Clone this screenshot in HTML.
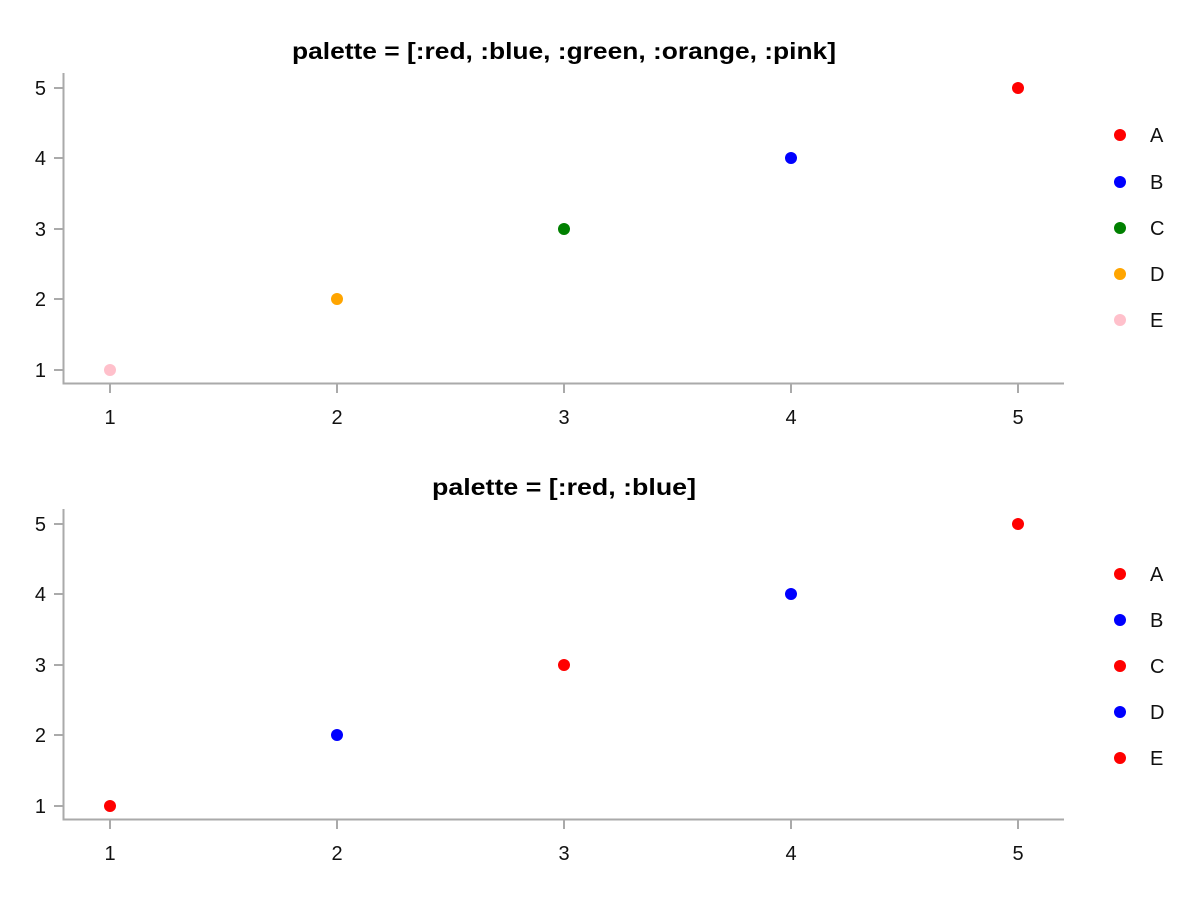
<!DOCTYPE html>
<html><head><meta charset="utf-8"><style>body{margin:0;background:#fff}svg{display:block}</style></head><body>
<svg width="1200" height="900" xmlns="http://www.w3.org/2000/svg" font-family="Liberation Sans, DejaVu Sans, sans-serif">
<g id="p1">
<text x="292" y="59" font-size="23" font-weight="bold" textLength="544" lengthAdjust="spacingAndGlyphs">palette = [:red, :blue, :green, :orange, :pink]</text>
<path d="M63.5 73V383.5H1064" fill="none" stroke="#aaa" stroke-width="2"/>
<g stroke="#aaa" stroke-width="2">
<path d="M54 370H63M54 299H63M54 229H63M54 158H63M54 88H63"/>
<path d="M110 384v9M337 384v9M564 384v9M791 384v9M1018 384v9"/>
</g>
<g font-size="20" text-anchor="end" fill="#111"><text x="46" y="377">1</text><text x="46" y="306">2</text><text x="46" y="236">3</text><text x="46" y="165">4</text><text x="46" y="95">5</text></g>
<g font-size="20" text-anchor="middle" fill="#111"><text x="110" y="424">1</text><text x="337" y="424">2</text><text x="564" y="424">3</text><text x="791" y="424">4</text><text x="1018" y="424">5</text></g>
<circle cx="110" cy="370" r="6" fill="pink"/><circle cx="337" cy="299" r="6" fill="orange"/><circle cx="564" cy="229" r="6" fill="green"/><circle cx="791" cy="158" r="6" fill="blue"/><circle cx="1018" cy="88" r="6" fill="red"/>
<circle cx="1120" cy="135" r="6" fill="red"/><circle cx="1120" cy="182" r="6" fill="blue"/><circle cx="1120" cy="228" r="6" fill="green"/><circle cx="1120" cy="274" r="6" fill="orange"/><circle cx="1120" cy="320" r="6" fill="pink"/>
<g font-size="20" fill="#111"><text x="1150" y="142">A</text><text x="1150" y="189">B</text><text x="1150" y="235">C</text><text x="1150" y="281">D</text><text x="1150" y="327">E</text></g>
</g>
<g id="p2">
<text x="432" y="495" font-size="23" font-weight="bold" textLength="264" lengthAdjust="spacingAndGlyphs">palette = [:red, :blue]</text>
<path d="M63.5 509V819.5H1064" fill="none" stroke="#aaa" stroke-width="2"/>
<g stroke="#aaa" stroke-width="2">
<path d="M54 806H63M54 735H63M54 665H63M54 594H63M54 524H63"/>
<path d="M110 820v9M337 820v9M564 820v9M791 820v9M1018 820v9"/>
</g>
<g font-size="20" text-anchor="end" fill="#111"><text x="46" y="813">1</text><text x="46" y="742">2</text><text x="46" y="672">3</text><text x="46" y="601">4</text><text x="46" y="531">5</text></g>
<g font-size="20" text-anchor="middle" fill="#111"><text x="110" y="860">1</text><text x="337" y="860">2</text><text x="564" y="860">3</text><text x="791" y="860">4</text><text x="1018" y="860">5</text></g>
<circle cx="110" cy="806" r="6" fill="red"/><circle cx="337" cy="735" r="6" fill="blue"/><circle cx="564" cy="665" r="6" fill="red"/><circle cx="791" cy="594" r="6" fill="blue"/><circle cx="1018" cy="524" r="6" fill="red"/>
<circle cx="1120" cy="574" r="6" fill="red"/><circle cx="1120" cy="620" r="6" fill="blue"/><circle cx="1120" cy="666" r="6" fill="red"/><circle cx="1120" cy="712" r="6" fill="blue"/><circle cx="1120" cy="758" r="6" fill="red"/>
<g font-size="20" fill="#111"><text x="1150" y="581">A</text><text x="1150" y="627">B</text><text x="1150" y="673">C</text><text x="1150" y="719">D</text><text x="1150" y="765">E</text></g>
</g>
</svg>
</body></html>
